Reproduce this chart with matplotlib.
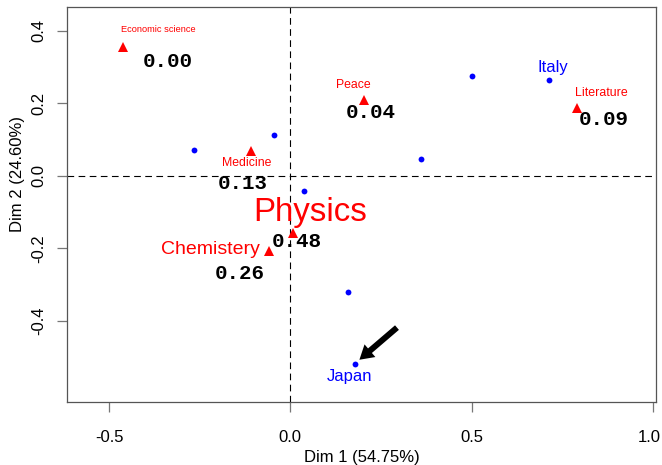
import numpy as np
import matplotlib
matplotlib.use('Agg')
import matplotlib.pyplot as plt
from matplotlib.transforms import ScaledTranslation

# column categories (red triangles) and their values
col_names=['Economic science','Peace','Literature','Medicine','Physics','Chemistery']
col_x=[-0.462,0.204,0.791,-0.109,0.007,-0.058]
col_y=[0.354,0.209,0.188,0.069,-0.159,-0.208]
col_val=[0.00,0.04,0.09,0.13,0.48,0.26]

# row points (blue dots), only two are labelled
row_x=[-0.265,-0.045,0.037,0.500,0.713,0.360,0.159,0.178]
row_y=[0.071,0.112,-0.043,0.274,0.264,0.047,-0.322,-0.518]
row_names=['','','','','Italy','','','Japan']

xlab='Dim 1 (54.75%)'
ylab='Dim 2 (24.60%)'

# styling of the labels (pixel offsets, font sizes)
col_fs=[6.7,8.8,8.9,8.8,23.8,14]
col_lab_off=[(36,18),(-11,15),(24,15),(-4,-12),(17,21),(-59,2)]
col_val_off=[(45,-14),(6,-13),(26,-12),(-8,-33),(4,-8),(-30,-22)]
row_lab_off={'Italy':(4,13),'Japan':(-5,-13)}

plt.rcParams['font.family']=['Liberation Sans','DejaVu Sans']

fig=plt.figure(figsize=(6.62,4.65),dpi=100)
ax=fig.add_axes([67.3/662,1-402/465,(656-67.3)/662,(402-7.3)/465])

ax.axhline(0,color='black',lw=0.8,linestyle=(0,(6,4)),zorder=1)
ax.axvline(0,color='black',lw=0.8,linestyle=(0,(6,4)),zorder=1)

ax.plot(row_x,row_y,'o',color='#0000ff',ms=4.2,mew=0,zorder=3)
ax.plot(col_x,col_y,'^',color='#ff0000',ms=7.5,mew=0,zorder=3)

for i in range(len(col_names)):
    ax.annotate(col_names[i],(col_x[i],col_y[i]),xytext=col_lab_off[i],
                textcoords='offset pixels',ha='center',va='center',
                color='#ff0000',fontsize=col_fs[i])
    ax.annotate('%.2f'%col_val[i],(col_x[i],col_y[i]),xytext=col_val_off[i],
                textcoords='offset pixels',ha='center',va='center',
                color='black',fontsize=15,family='Liberation Mono',weight='bold')

for i in range(len(row_names)):
    if row_names[i]=='':
        continue
    ax.annotate(row_names[i],(row_x[i],row_y[i]),xytext=row_lab_off[row_names[i]],
                textcoords='offset pixels',ha='center',va='center',
                color='#0000ff',fontsize=12)

# arrow pointing at Japan
j=row_names.index('Japan')
ax.annotate('',xy=(row_x[j],row_y[j]),xytext=(46.5,39.8),textcoords='offset pixels',
            arrowprops=dict(facecolor='black',edgecolor='none',width=4.3,
                            headwidth=12,headlength=10,shrink=0.096))

ax.set_xlim(-0.615,1.008)
ax.set_ylim(-0.624,0.4645)
ax.set_xticks([-0.5,0.0,0.5,1.0])
ax.set_yticks([-0.4,-0.2,0.0,0.2,0.4])
ax.set_xticklabels(['-0.5','0.0','0.5','1.0'])
ax.set_yticklabels(['-0.4','-0.2','0.0','0.2','0.4'])

for s in ax.spines.values():
    s.set_color('#555555')
    s.set_linewidth(0.9)
ax.tick_params(length=7,width=0.9,color='#777777',labelsize=12,labelcolor='black')
ax.tick_params(axis='x',pad=13)
ax.tick_params(axis='y',pad=8)
plt.setp(ax.get_yticklabels(),rotation=90,va='center')

# last x label is pushed a bit left so it stays inside the figure
lab=ax.get_xticklabels()[-1]
lab.set_transform(lab.get_transform()+ScaledTranslation(-0.04,0,fig.dpi_scale_trans))

ax.set_xlabel(xlab,fontsize=12,labelpad=4)
ax.set_ylabel(ylab,fontsize=12)
ax.yaxis.set_label_coords(-0.072,0.578)

plt.savefig('out.png',dpi=100)
